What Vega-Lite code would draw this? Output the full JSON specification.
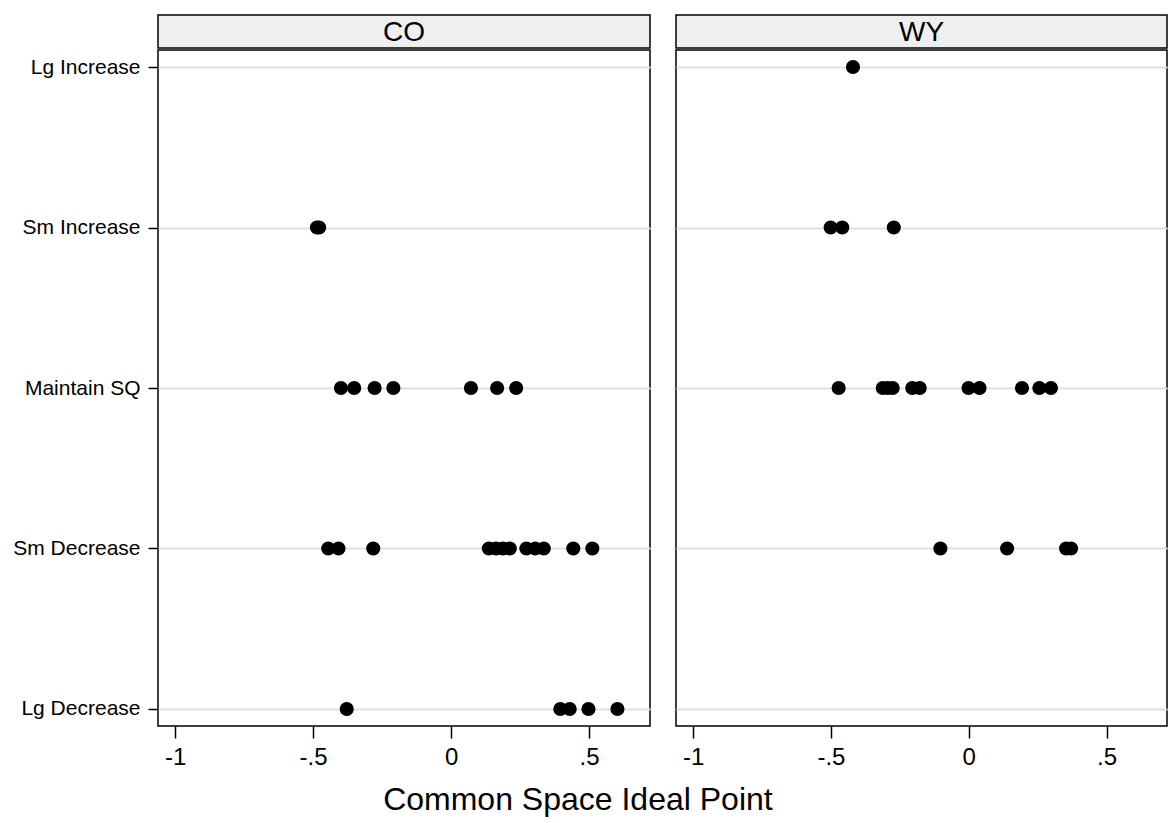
{
  "$schema": "https://vega.github.io/schema/vega-lite/v6.json",
  "background": "white",
  "padding": {"left": 12, "top": 14, "right": 5, "bottom": 5},
  "datasets": {
    "hdr": [{"state": "CO"}, {"state": "WY"}],
    "pts": [
      {"state": "CO", "cat": "Sm Increase", "x": -0.486},
      {"state": "CO", "cat": "Sm Increase", "x": -0.478},
      {"state": "CO", "cat": "Maintain SQ", "x": -0.399},
      {"state": "CO", "cat": "Maintain SQ", "x": -0.351},
      {"state": "CO", "cat": "Maintain SQ", "x": -0.277},
      {"state": "CO", "cat": "Maintain SQ", "x": -0.209},
      {"state": "CO", "cat": "Maintain SQ", "x": 0.072},
      {"state": "CO", "cat": "Maintain SQ", "x": 0.167},
      {"state": "CO", "cat": "Maintain SQ", "x": 0.236},
      {"state": "CO", "cat": "Sm Decrease", "x": -0.445},
      {"state": "CO", "cat": "Sm Decrease", "x": -0.408},
      {"state": "CO", "cat": "Sm Decrease", "x": -0.282},
      {"state": "CO", "cat": "Sm Decrease", "x": 0.137},
      {"state": "CO", "cat": "Sm Decrease", "x": 0.163},
      {"state": "CO", "cat": "Sm Decrease", "x": 0.188},
      {"state": "CO", "cat": "Sm Decrease", "x": 0.213},
      {"state": "CO", "cat": "Sm Decrease", "x": 0.273},
      {"state": "CO", "cat": "Sm Decrease", "x": 0.305},
      {"state": "CO", "cat": "Sm Decrease", "x": 0.336},
      {"state": "CO", "cat": "Sm Decrease", "x": 0.443},
      {"state": "CO", "cat": "Sm Decrease", "x": 0.512},
      {"state": "CO", "cat": "Lg Decrease", "x": -0.378},
      {"state": "CO", "cat": "Lg Decrease", "x": 0.396},
      {"state": "CO", "cat": "Lg Decrease", "x": 0.43},
      {"state": "CO", "cat": "Lg Decrease", "x": 0.498},
      {"state": "CO", "cat": "Lg Decrease", "x": 0.603},
      {"state": "WY", "cat": "Lg Increase", "x": -0.42},
      {"state": "WY", "cat": "Sm Increase", "x": -0.501},
      {"state": "WY", "cat": "Sm Increase", "x": -0.459},
      {"state": "WY", "cat": "Sm Increase", "x": -0.272},
      {"state": "WY", "cat": "Maintain SQ", "x": -0.472},
      {"state": "WY", "cat": "Maintain SQ", "x": -0.312},
      {"state": "WY", "cat": "Maintain SQ", "x": -0.294},
      {"state": "WY", "cat": "Maintain SQ", "x": -0.276},
      {"state": "WY", "cat": "Maintain SQ", "x": -0.205},
      {"state": "WY", "cat": "Maintain SQ", "x": -0.178},
      {"state": "WY", "cat": "Maintain SQ", "x": -0.001},
      {"state": "WY", "cat": "Maintain SQ", "x": 0.039},
      {"state": "WY", "cat": "Maintain SQ", "x": 0.193},
      {"state": "WY", "cat": "Maintain SQ", "x": 0.256},
      {"state": "WY", "cat": "Maintain SQ", "x": 0.298},
      {"state": "WY", "cat": "Sm Decrease", "x": -0.103},
      {"state": "WY", "cat": "Sm Decrease", "x": 0.139},
      {"state": "WY", "cat": "Sm Decrease", "x": 0.353},
      {"state": "WY", "cat": "Sm Decrease", "x": 0.371}
    ]
  },
  "title": {
    "text": "Common Space Ideal Point",
    "orient": "bottom",
    "anchor": "middle",
    "fontSize": 32,
    "font": "Liberation Sans",
    "fontWeight": "normal",
    "color": "black",
    "offset": 15,
    "dx": -12
  },
  "config": {
    "font": "Liberation Sans",
    "view": {"stroke": "black", "strokeWidth": 1.5},
    "axis": {"labelColor": "black", "tickColor": "black", "domain": false, "labelFont": "Liberation Sans"},
    "concat": {"spacing": 24}
  },
  "hconcat": [
    {
      "spacing": 0,
      "vconcat": [
        {
          "width": 492,
          "height": 33,
          "view": {"fill": "#efefef", "stroke": "black", "strokeWidth": 1.5},
          "data": {"name": "hdr"},
          "transform": [{"filter": "datum.state === 'CO'"}],
          "mark": {"type": "text", "fontSize": 28, "color": "black", "baseline": "middle", "align": "center", "dy": 1},
          "encoding": {"text": {"field": "state"}}
        },
        {
          "width": 492,
          "height": 676,
          "data": {"name": "pts"},
          "transform": [{"filter": "datum.state === 'CO'"}],
          "mark": {"type": "circle", "size": 200, "opacity": 1, "color": "black"},
          "encoding": {
            "x": {
              "field": "x", "type": "quantitative",
              "scale": {"domain": [-1.062, 0.721], "nice": false, "zero": false},
              "axis": {"values": [-1, -0.5, 0, 0.5], "labelExpr": "replace(replace(format(datum.value, '.1~f'), '\u2212', '-'), '0.', '.')", "labelFontSize": 24, "tickSize": 12, "tickWidth": 1.5, "labelPadding": 7, "grid": false, "title": null}
            },
            "y": {
              "field": "cat", "type": "ordinal",
              "sort": ["Lg Increase", "Sm Increase", "Maintain SQ", "Sm Decrease", "Lg Decrease"],
              "scale": {"domain": ["Lg Increase", "Sm Increase", "Maintain SQ", "Sm Decrease", "Lg Decrease"], "type": "point", "padding": 0.106},
              "axis": {"labelFontSize": 21, "tickSize": 10, "tickWidth": 1.5, "labelPadding": 8, "grid": true, "gridColor": "#e0e0e0", "gridWidth": 2, "title": null}
            }
          }
        }
      ]
    },
    {
      "spacing": 0,
      "vconcat": [
        {
          "width": 491,
          "height": 33,
          "view": {"fill": "#efefef", "stroke": "black", "strokeWidth": 1.5},
          "data": {"name": "hdr"},
          "transform": [{"filter": "datum.state === 'WY'"}],
          "mark": {"type": "text", "fontSize": 28, "color": "black", "baseline": "middle", "align": "center", "dy": 1},
          "encoding": {"text": {"field": "state"}}
        },
        {
          "width": 491,
          "height": 676,
          "data": {"name": "pts"},
          "transform": [{"filter": "datum.state === 'WY'"}],
          "mark": {"type": "circle", "size": 200, "opacity": 1, "color": "black"},
          "encoding": {
            "x": {
              "field": "x", "type": "quantitative",
              "scale": {"domain": [-1.062, 0.719], "nice": false, "zero": false},
              "axis": {"values": [-1, -0.5, 0, 0.5], "labelExpr": "replace(replace(format(datum.value, '.1~f'), '\u2212', '-'), '0.', '.')", "labelFontSize": 24, "tickSize": 12, "tickWidth": 1.5, "labelPadding": 7, "grid": false, "title": null}
            },
            "y": {
              "field": "cat", "type": "ordinal",
              "scale": {"domain": ["Lg Increase", "Sm Increase", "Maintain SQ", "Sm Decrease", "Lg Decrease"], "type": "point", "padding": 0.106},
              "axis": {"labels": false, "ticks": false, "grid": true, "gridColor": "#e0e0e0", "gridWidth": 2, "title": null}
            }
          }
        }
      ]
    }
  ]
}
